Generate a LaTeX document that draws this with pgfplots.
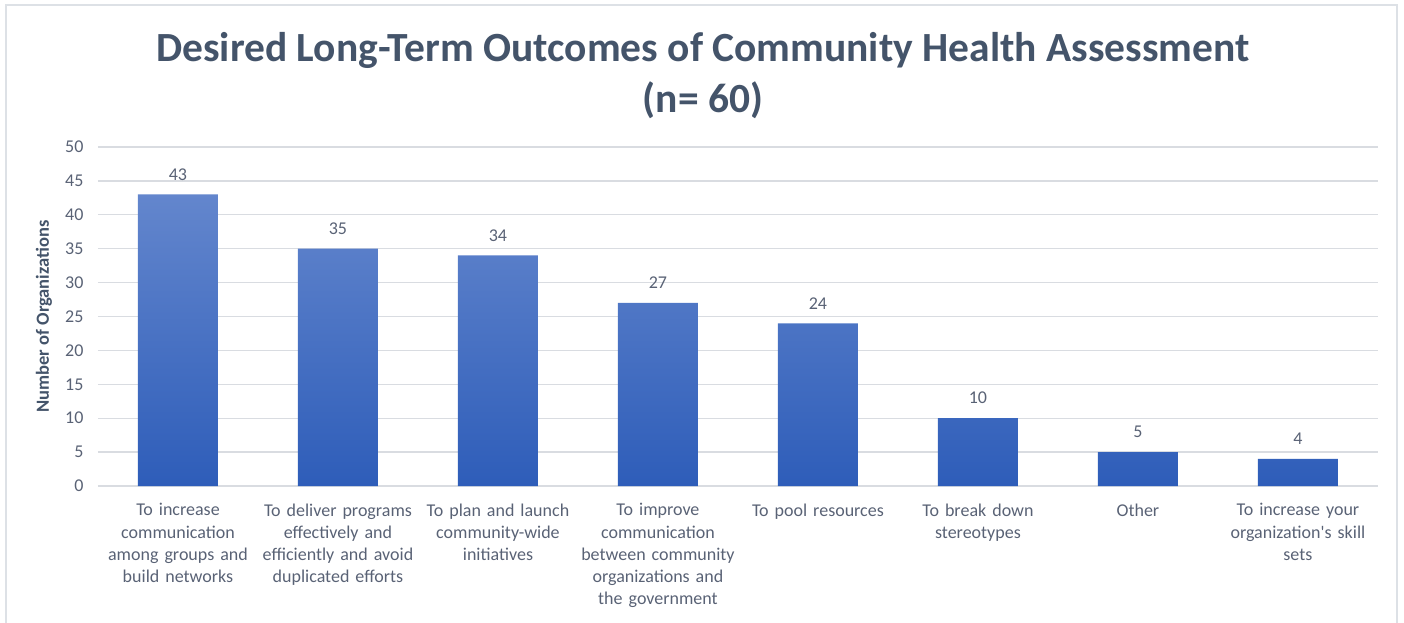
\documentclass[border=0pt]{standalone}
\usepackage{fontspec}
\setmainfont{Carlito}
\newfontfamily\plainfont{Carlito}
\usepackage{pgfplots}
\pgfplotsset{compat=1.18}
\definecolor{titlecol}{HTML}{44546A}
\definecolor{tickcol}{HTML}{596275}
\definecolor{gridcol}{HTML}{D9DCE1}
\definecolor{framecol}{HTML}{DDE1E6}
\definecolor{bartop}{HTML}{6386CD}
\definecolor{barbot}{HTML}{2E5DB9}

\begin{document}
\begin{tikzpicture}[x=1pt,y=1pt]
\useasboundingbox (-98,-136) rectangle (1306,486);
\draw[framecol, line width=1.6pt] (-92,-160) rectangle (1299,481);
\node[font=\fontsize{41.5}{46}\selectfont\bfseries, text=titlecol, anchor=base] at (605,424) {Desired Long-Term Outcomes of Community Health Assessment};
\node[font=\fontsize{41.5}{46}\selectfont\bfseries, text=titlecol, anchor=base] at (605,373) {(n= 60)};
\begin{axis}[
    at={(0,0)}, anchor=south west,
    width=1280pt, height=339pt, scale only axis,
    xmin=-0.5, xmax=7.5, ymin=0, ymax=50,
    ytick={0,5,...,50},
    xtick={0,...,7},
    xticklabels={
        {To increase\\communication\\among groups and\\build networks},
        {To deliver programs\\effectively and\\efficiently and avoid\\duplicated efforts},
        {To plan and launch\\community-wide\\initiatives},
        {To improve\\communication\\between community\\organizations and\\the government},
        {To pool resources},
        {To break down\\stereotypes},
        {Other},
        {To increase your\\organization{\plainfont'}s skill\\sets}},
    axis line style={draw=none},
    major tick length=0pt,
    ymajorgrids,
    grid style={gridcol, line width=1.3pt},
    /pgf/number format/assume math mode=true,
    tick label style={text=tickcol},
    yticklabel style={font=\fontsize{18}{20}\selectfont, xshift=-11pt},
    xticklabel style={font=\fontsize{18}{22.2}\selectfont, align=center, text width=180pt, anchor=north, yshift=-14pt},
    ylabel={Number of Organizations},
    ylabel style={at={(axis description cs:-0.0422,0.5)}, anchor=center, font=\fontsize{18.5}{20}\selectfont\bfseries, text=titlecol},
    ybar, bar width=80pt,
    nodes near coords,
    every node near coord/.append style={font=\fontsize{18}{20}\selectfont, text=tickcol, anchor=center, yshift=20pt},
    clip=false,
]
\addplot[draw=none, top color=bartop, bottom color=barbot] coordinates {
    (0,43) (1,35) (2,34) (3,27) (4,24) (5,10) (6,5) (7,4)
};
\end{axis}
\end{tikzpicture}
\end{document}
